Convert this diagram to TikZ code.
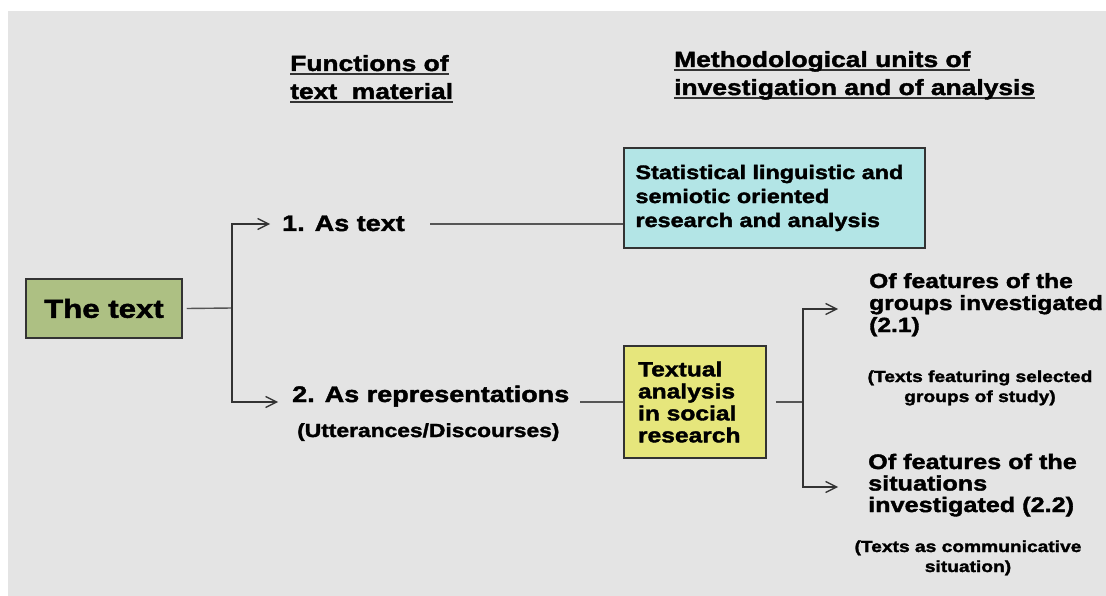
\documentclass[tikz,border=0pt]{standalone}
\usepackage{fontspec}
\newfontfamily\hb{Liberation Sans Bold}[FakeStretch=1.2,FakeBold=1.8]
\usetikzlibrary{arrows.meta}

\definecolor{pagegray}{HTML}{E4E4E4}
\definecolor{rootgreen}{HTML}{ADC083}
\definecolor{statcyan}{HTML}{B3E5E6}
\definecolor{socyellow}{HTML}{E6E67C}
\definecolor{edge}{HTML}{333333}
\definecolor{wire}{HTML}{555555}

% font size helper, underlined line, stacked lines (baseline = first line)
\newcommand\fs[2]{\fontsize{#1}{#2}\selectfont}
\newcommand\ulin[1]{\setbox0\hbox{#1}\rlap{\textcolor{edge}{\rule[-4.5pt]{\wd0}{2pt}}}\box0}
\newcommand\rows[2]{\begin{tabular}[t]{@{}#1@{}}#2\end{tabular}}

\begin{document}
\begin{tikzpicture}[x=1pt,y=-1pt,
  every node/.style={inner sep=0pt,text=black,font=\hb},
  box/.style={draw=edge,line width=1.5pt},
  wireline/.style={draw=wire,line width=1.4pt},
  arrowline/.style={draw=edge,line width=1.4pt,-{Straight Barb[length=11pt,width=11pt,line width=1.3pt]}}]

\useasboundingbox (0,0) rectangle (1106,596);
\fill[white] (0,0) rectangle (1106,596);
\fill[pagegray] (8,11) rectangle (1106,596);

% column headings
\node[anchor=base west,font=\hb\fs{22}{28}] (h1) at (290,71)
  {\rows{l}{\ulin{Functions of}\\\ulin{text\ \ material}}};
\node[anchor=base west,font=\hb\fs{22}{28}] (h2) at (674,67)
  {\rows{l}{\ulin{Methodological units of}\\\ulin{investigation and of analysis}}};

% root
\node[box,fill=rootgreen,minimum width=156pt,minimum height=59pt,
  font=\hb\fs{26}{30}] (root) at (104,308.5) {The text};

% functions
\node[anchor=base west,font=\hb\fs{22.5}{27}] (as1) at (282,231) {1. As text};
\node[anchor=base west,font=\hb\fs{22.5}{27}] (as2) at (292,402) {2. As representations};
\node[anchor=base west,font=\hb\fs{19}{23}] (utt) at (297,437) {(Utterances/Discourses)};

% methodological boxes
\node[box,fill=statcyan,minimum width=301pt,minimum height=100pt,
  text width=278pt,inner xsep=11.5pt,align=left,font=\hb\fs{19.5}{24}] (stat) at (774.5,198)
  {Statistical linguistic and\\semiotic oriented\\research and analysis};
\node[box,fill=socyellow,minimum width=142pt,minimum height=112pt,
  text width=114pt,inner xsep=14pt,align=left,font=\hb\fs{20.5}{22}] (soc) at (695,402)
  {Textual\\analysis\\in social\\research};

% units of analysis
\node[anchor=base west,font=\hb\fs{20.5}{22}] (g21) at (869,288)
  {\rows{l}{Of features of the\\groups investigated\\(2.1)}};
\node[anchor=base,font=\hb\fs{16}{20}] (n21) at (980,382)
  {\rows{c}{(Texts featuring selected\\groups of study)}};
\node[anchor=base west,font=\hb\fs{21}{21}] (g22) at (868,469)
  {\rows{l}{Of features of the\\situations\\investigated (2.2)}};
\node[anchor=base,font=\hb\fs{16}{20}] (n22) at (968,552)
  {\rows{c}{(Texts as communicative\\situation)}};

% connectors
\coordinate (j1) at (232,308);
\coordinate (t1) at (270,224);
\coordinate (t2) at (278,402);
\coordinate (s1) at (430,224);
\coordinate (s2) at (580,402);
\coordinate (j2) at (803,402);
\coordinate (t3) at (838,309);
\coordinate (t4) at (838,487);

\draw[wireline] ([xshift=4pt]root.east) -- (j1);
\draw[arrowline] (j1) |- (t1);
\draw[arrowline] (j1) |- (t2);
\draw[wireline] (s1) -- (s1 -| stat.west);
\draw[wireline] (s2) -- (soc.west);
\draw[wireline] ([xshift=9pt]soc.east) -- (j2);
\draw[arrowline] (j2) |- (t3);
\draw[arrowline] (j2) |- (t4);
\end{tikzpicture}
\end{document}
